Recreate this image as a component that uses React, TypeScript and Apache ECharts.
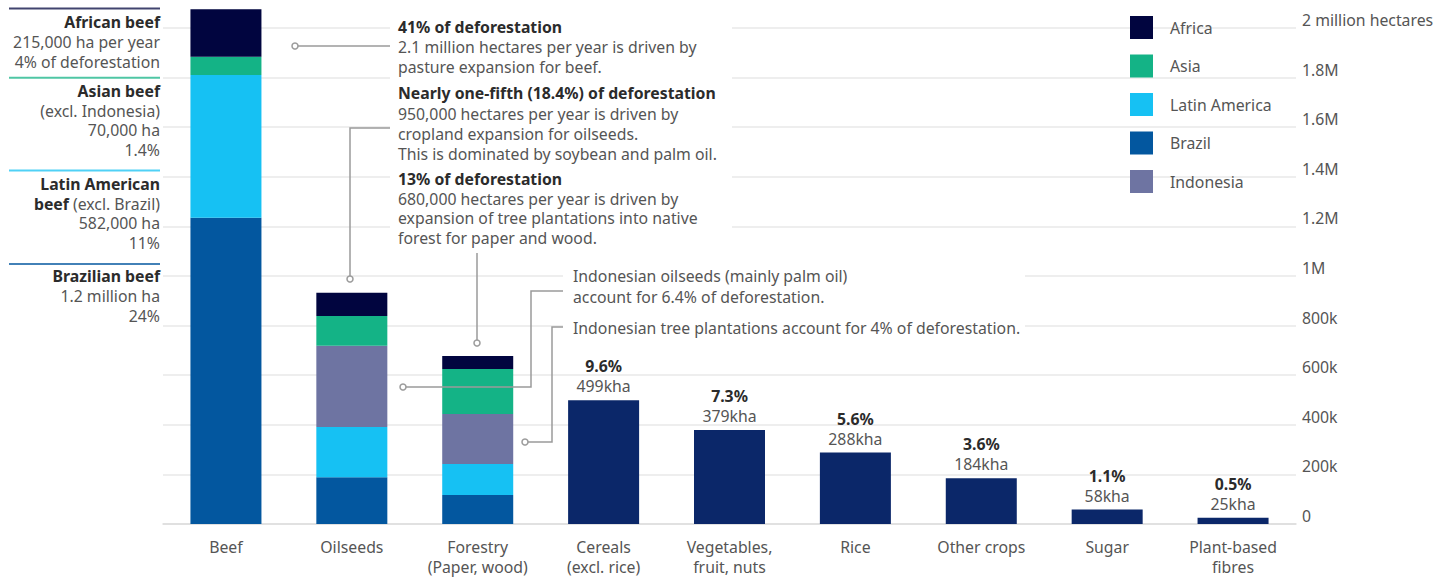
import React, { useEffect, useRef } from "react";
import * as echarts from "echarts";

const categories = [
  "Beef",
  "Oilseeds",
  "Forestry\n(Paper, wood)",
  "Cereals\n(excl. rice)",
  "Vegetables,\nfruit, nuts",
  "Rice",
  "Other crops",
  "Sugar",
  "Plant-based\nfibres",
];

const brazil = [1235000, 189000, 117000, null, null, null, null, null, null];
const latinAmerica = [575000, 202000, 125000, null, null, null, null, null, null];
const indonesia = [null, 328000, 202000, null, null, null, null, null, null];
const asia = [74000, 120000, 181000, null, null, null, null, null, null];
const africa = [192000, 93000, 52000, null, null, null, null, null, null];
const otherCrops = [null, null, null, 499000, 379000, 288000, 184000, 58000, 25000];
const otherPct = ["", "", "", "9.6%", "7.3%", "5.6%", "3.6%", "1.1%", "0.5%"];
const otherKha = ["", "", "", "499kha", "379kha", "288kha", "184kha", "58kha", "25kha"];

const legendOrder = ["Africa", "Asia", "Latin America", "Brazil", "Indonesia"];

const COLORS = {
  Africa: "#01053f",
  Asia: "#14b386",
  "Latin America": "#16c1f3",
  Brazil: "#03579f",
  Indonesia: "#6e74a2",
  Other: "#0b2769",
};

const FONT = "Noto Sans";
const FS = 15.8;
const BOLD_C = "#2b2b2b";
const REG_C = "#555555";

function txt(x: number, y: number, text: string, bold: boolean, align: string, extra: any = {}) {
  return {
    type: "text",
    z: 20,
    x,
    y,
    style: {
      text,
      fill: bold ? BOLD_C : REG_C,
      fontSize: FS,
      fontFamily: FONT,
      fontWeight: bold ? "bold" : "normal",
      lineHeight: 18,
      align,
      verticalAlign: "middle",
      ...extra,
    },
  };
}

export default function App() {
  const ref = useRef<HTMLDivElement>(null);
  useEffect(() => {
    if (!ref.current) return;
    const chart = echarts.init(ref.current, undefined, { renderer: "svg" });

    const mk = (name: string, data: any[]) => ({
      name,
      type: "bar",
      stack: "a",
      barWidth: 71,
      clip: false,
      data,
      itemStyle: { color: (COLORS as any)[name] },
      emphasis: { disabled: true },
    });

    const gray = "#9a9a9a";
    const circle = (cx: number, cy: number) => ({
      type: "circle",
      z: 21,
      shape: { cx, cy, r: 3 },
      style: { fill: "#fff", stroke: gray, lineWidth: 1.5 },
    });
    const poly = (points: number[][]) => ({
      type: "polyline",
      z: 20,
      shape: { points },
      style: { stroke: gray, lineWidth: 1.5, fill: null },
    });
    const hline = (y: number, color: string) => ({
      type: "line",
      z: 20,
      shape: { x1: 9, y1: y, x2: 160, y2: y },
      style: { stroke: color, lineWidth: 2, opacity: 0.75 },
    });

    const graphics: any[] = [
      { type: "rect", z: 15, shape: { x: 390, y: 12, width: 342, height: 234 }, style: { fill: "#fff" } },
      { type: "rect", z: 15, shape: { x: 563, y: 264, width: 462, height: 74 }, style: { fill: "#fff" } },
      hline(8.5, COLORS.Africa),
      hline(77.7, COLORS.Asia),
      hline(170.5, COLORS["Latin America"]),
      hline(264, COLORS.Brazil),
      txt(160, 22, "African beef", true, "right"),
      txt(160, 42, "215,000 ha per year", false, "right"),
      txt(160, 61.5, "4% of deforestation", false, "right"),
      txt(160, 91, "Asian beef", true, "right"),
      txt(160, 110.5, "(excl. Indonesia)", false, "right"),
      txt(160, 130, "70,000 ha", false, "right"),
      txt(160, 150, "1.4%", false, "right"),
      txt(160, 184, "Latin American", true, "right"),
      {
        type: "text",
        z: 20,
        x: 160,
        y: 203.5,
        style: {
          text: "{b|beef} (excl. Brazil)",
          fill: REG_C,
          fontSize: FS,
          fontFamily: FONT,
          lineHeight: 18,
          align: "right",
          verticalAlign: "middle",
          rich: {
            b: { fontWeight: "bold", fill: BOLD_C, fontSize: FS, fontFamily: FONT, lineHeight: 18 },
          },
        },
      },
      txt(160, 223, "582,000 ha", false, "right"),
      txt(160, 243, "11%", false, "right"),
      txt(160, 276, "Brazilian beef", true, "right"),
      txt(160, 295.8, "1.2 million ha", false, "right"),
      txt(160, 315.6, "24%", false, "right"),
      txt(398, 26.5, "41% of deforestation", true, "left"),
      txt(398, 46.5, "2.1 million hectares per year is driven by", false, "left"),
      txt(398, 66.5, "pasture expansion for beef.", false, "left"),
      txt(398, 93, "Nearly one-fifth (18.4%) of deforestation", true, "left"),
      txt(398, 114, "950,000 hectares per year is driven by", false, "left"),
      txt(398, 134, "cropland expansion for oilseeds.", false, "left"),
      txt(398, 153.5, "This is dominated by soybean and palm oil.", false, "left"),
      txt(398, 179, "13% of deforestation", true, "left"),
      txt(398, 198.8, "680,000 hectares per year is driven by", false, "left"),
      txt(398, 218.2, "expansion of tree plantations into native", false, "left"),
      txt(398, 237.8, "forest for paper and wood.", false, "left"),
      txt(573, 276, "Indonesian oilseeds (mainly palm oil)", false, "left"),
      txt(573, 297, "account for 6.4% of deforestation.", false, "left"),
      txt(573, 327.5, "Indonesian tree plantations account for 4% of deforestation.", false, "left"),
      poly([[295, 46], [390, 46]]),
      circle(295, 46),
      poly([[390, 128], [350, 128], [350, 279]]),
      circle(350, 279),
      poly([[477, 253], [477, 343]]),
      circle(477, 343),
      poly([[403, 387], [531, 387], [531, 291], [563, 291]]),
      circle(403, 387),
      poly([[525, 442], [552, 442], [552, 327], [563, 327]]),
      circle(525, 442),
    ];

    chart.setOption({
      animation: false,
      textStyle: { fontFamily: FONT },
      grid: { left: 163, right: 153, top: 28, bottom: 54, containLabel: false },
      legend: {
        data: legendOrder,
        orient: "vertical",
        left: 1125,
        top: 11,
        itemWidth: 23,
        itemHeight: 23,
        itemGap: 15.5,
        icon: "rect",
        selectedMode: false,
        textStyle: { fontSize: FS, color: REG_C, fontFamily: FONT, padding: [0, 0, 0, 12] },
      },
      xAxis: {
        type: "category",
        data: categories,
        axisTick: { show: false },
        axisLine: { lineStyle: { color: "#dcdcdc", width: 1.5 } },
        axisLabel: { fontSize: FS, color: REG_C, margin: 13.25, lineHeight: 19.5, fontFamily: FONT, interval: 0 },
      },
      yAxis: {
        type: "value",
        position: "right",
        min: 0,
        max: 2000000,
        interval: 200000,
        axisLine: { show: false },
        axisTick: { show: false },
        splitLine: { lineStyle: { color: "#e8e8e8", width: 1.5 } },
        axisLabel: {
          margin: 6,
          fontSize: FS,
          color: REG_C,
          fontFamily: FONT,
          verticalAlign: "bottom",
          formatter: (v: number) =>
            v === 0 ? "0" : v === 2000000 ? "2 million hectares" : v < 1000000 ? v / 1000 + "k" : v / 1000000 + "M",
        },
      },
      series: [
        mk("Brazil", brazil),
        mk("Latin America", latinAmerica),
        mk("Indonesia", indonesia),
        mk("Asia", asia),
        mk("Africa", africa),
        {
          ...mk("Other", otherCrops),
          label: {
            show: true,
            position: "top",
            distance: 4,
            formatter: (p: any) => `{p|${otherPct[p.dataIndex]}}\n{v|${otherKha[p.dataIndex]}}`,
            rich: {
              p: { fontSize: FS, fontWeight: "bold", color: BOLD_C, lineHeight: 20, fontFamily: FONT },
              v: { fontSize: FS, color: REG_C, lineHeight: 20, fontFamily: FONT },
            },
          },
        },
      ],
      graphic: graphics,
    });
    return () => chart.dispose();
  }, []);
  return <div ref={ref} style={{ position: "fixed", left: 0, top: 0, width: 1449, height: 578, background: "#fff" }} />;
}
